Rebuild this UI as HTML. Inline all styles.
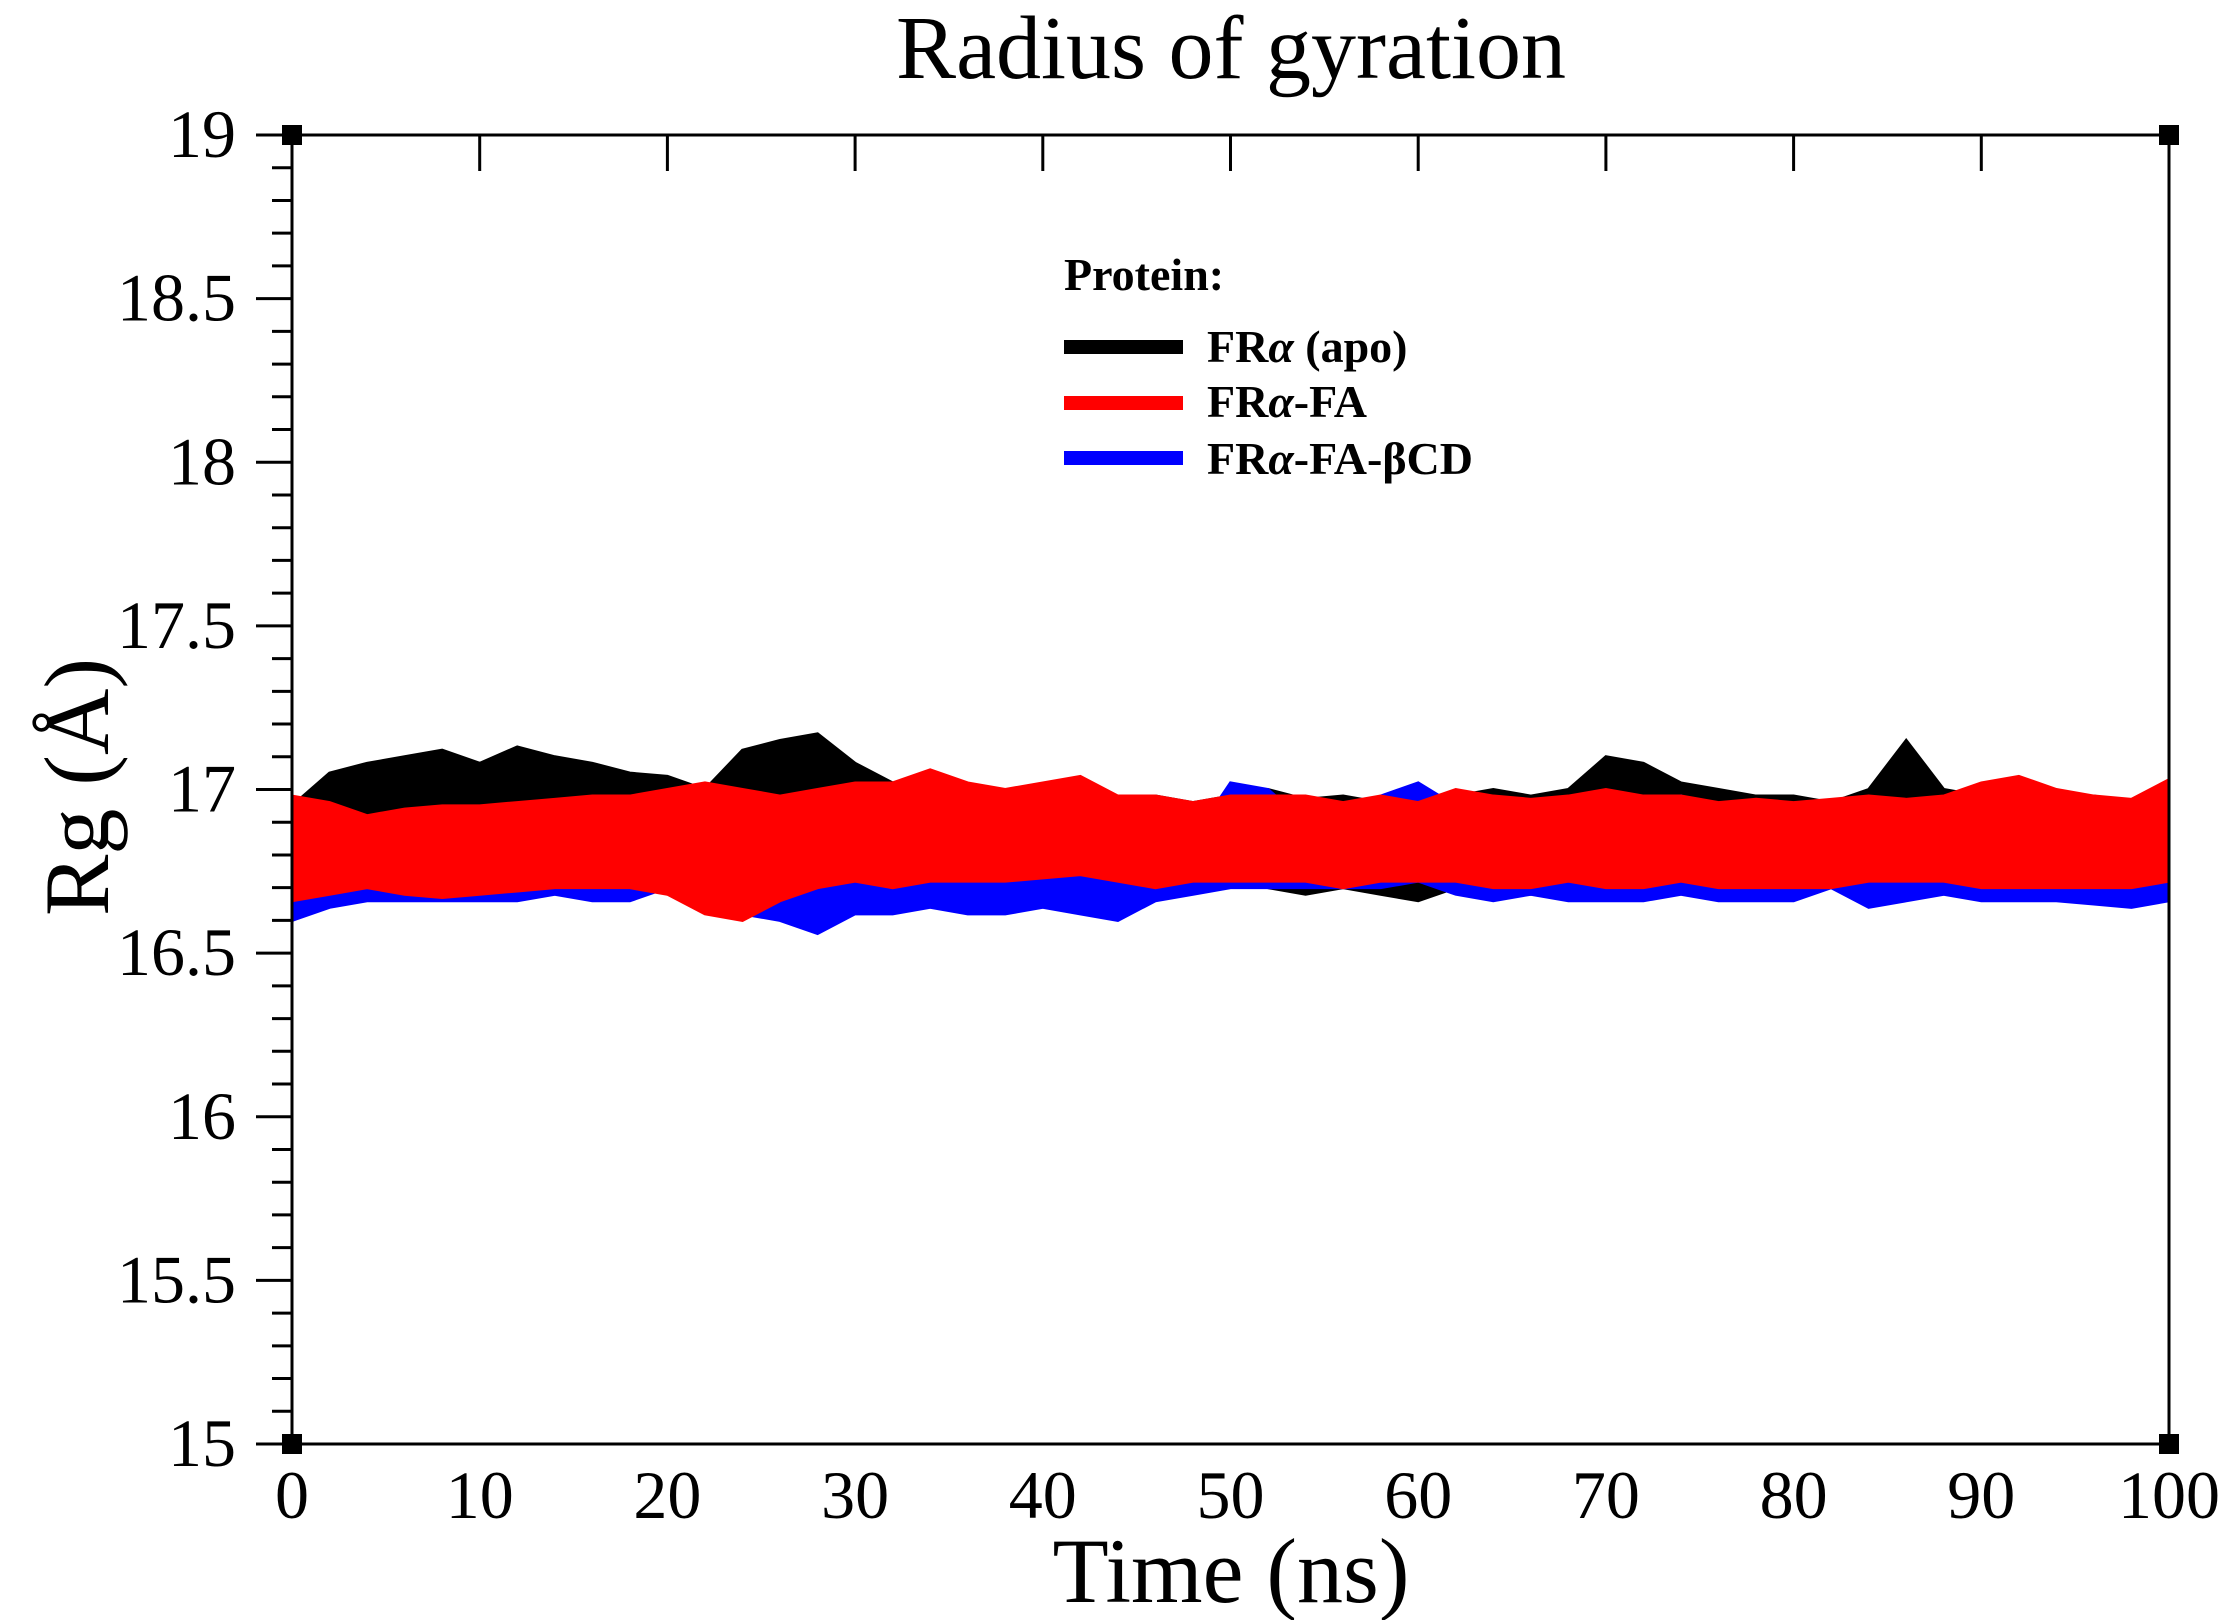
<!DOCTYPE html>
<html><head><meta charset="utf-8"><style>body{margin:0;background:#fff}svg{display:block}</style></head>
<body>
<svg id="chart" width="2235" height="1620" xmlns="http://www.w3.org/2000/svg" font-family="'Liberation Serif', serif">
<rect width="2235" height="1620" fill="#fff"/>
<text x="1231" y="78" font-size="90" text-anchor="middle">Radius of gyration</text>
<g id="marks"></g>
<g id="axes"></g>
<text x="1231" y="1602" font-size="92" text-anchor="middle">Time (ns)</text>
<text transform="translate(108,787) rotate(-90)" font-size="92" text-anchor="middle">Rg (Å)</text>
<g font-weight="bold" font-size="46">
<text x="1064" y="290">Protein:</text>
<rect x="1064" y="340" width="119" height="14" fill="#000"/>
<text x="1207" y="362">FR<tspan font-style="italic">α</tspan> (apo)</text>
<rect x="1064" y="396" width="119" height="14" fill="#f00"/>
<text x="1207" y="417">FR<tspan font-style="italic">α</tspan>-FA</text>
<rect x="1064" y="451" width="119" height="14" fill="#00f"/>
<text x="1207" y="474">FR<tspan font-style="italic">α</tspan>-FA-βCD</text>
</g>
</svg>
<script>
const xTicks=[0,10,20,30,40,50,60,70,80,90,100];
const yTicks=[15,15.5,16,16.5,17,17.5,18,18.5,19];
const times=[0,2,4,6,8,10,12,14,16,18,20,22,24,26,28,30,32,34,36,38,40,42,44,46,48,50,52,54,56,58,60,62,64,66,68,70,72,74,76,78,80,82,84,86,88,90,92,94,96,98,100];
const apoHi=[16.95,17.05,17.08,17.1,17.12,17.08,17.13,17.1,17.08,17.05,17.04,17.0,17.12,17.15,17.17,17.08,17.02,16.98,16.95,16.98,17.0,16.97,16.95,16.98,16.96,16.98,17.0,16.97,16.98,16.96,16.98,16.98,17.0,16.98,17.0,17.1,17.08,17.02,17.0,16.98,16.98,16.96,17.0,17.15,17.0,16.98,17.0,16.97,16.98,16.96,17.02];
const apoLo=[16.6,16.65,16.68,16.7,16.7,16.72,16.72,16.73,16.74,16.74,16.74,16.72,16.7,16.68,16.7,16.66,16.68,16.7,16.7,16.72,16.73,16.72,16.72,16.72,16.72,16.73,16.7,16.68,16.7,16.68,16.66,16.7,16.7,16.68,16.7,16.72,16.7,16.7,16.68,16.68,16.68,16.7,16.68,16.7,16.72,16.72,16.7,16.68,16.68,16.68,16.7];
const faHi=[16.98,16.96,16.92,16.94,16.95,16.95,16.96,16.97,16.98,16.98,17.0,17.02,17.0,16.98,17.0,17.02,17.02,17.06,17.02,17.0,17.02,17.04,16.98,16.98,16.96,16.98,16.98,16.98,16.96,16.98,16.96,17.0,16.98,16.97,16.98,17.0,16.98,16.98,16.96,16.97,16.96,16.97,16.98,16.97,16.98,17.02,17.04,17.0,16.98,16.97,17.03];
const faLo=[16.66,16.68,16.7,16.68,16.67,16.68,16.69,16.7,16.7,16.7,16.68,16.62,16.6,16.66,16.7,16.72,16.7,16.72,16.72,16.72,16.73,16.74,16.72,16.7,16.72,16.72,16.72,16.72,16.7,16.72,16.72,16.72,16.7,16.7,16.72,16.7,16.7,16.72,16.7,16.7,16.7,16.7,16.72,16.72,16.72,16.7,16.7,16.7,16.7,16.7,16.72];
const bcdHi=[16.9,16.88,16.84,16.82,16.82,16.82,16.84,16.85,16.84,16.86,16.86,16.82,16.85,16.84,16.8,16.82,16.84,16.85,16.84,16.83,16.86,16.88,16.85,16.85,16.85,17.02,17.0,16.9,16.9,16.98,17.02,16.95,16.88,16.86,16.85,16.88,16.9,16.98,16.88,16.86,16.86,16.86,16.88,16.9,16.86,16.86,16.88,16.86,16.84,16.84,16.86];
const bcdLo=[16.6,16.64,16.66,16.66,16.66,16.66,16.66,16.68,16.66,16.66,16.7,16.64,16.62,16.6,16.56,16.62,16.62,16.64,16.62,16.62,16.64,16.62,16.6,16.66,16.68,16.7,16.7,16.7,16.7,16.7,16.72,16.68,16.66,16.68,16.66,16.66,16.66,16.68,16.66,16.66,16.66,16.7,16.64,16.66,16.68,16.66,16.66,16.66,16.65,16.64,16.66];

const X0=292,X1=2169,Y0=1444,Y1=135;
const xs=v=>X0+(v-0)/100*(X1-X0);
const ys=v=>Y0-(v-15)/4*(Y0-Y1);
const NS="http://www.w3.org/2000/svg";
const marks=document.getElementById('marks'), axes=document.getElementById('axes');
function mk(tag,attrs,parent){const e=document.createElementNS(NS,tag);for(const k in attrs)e.setAttribute(k,attrs[k]);parent.appendChild(e);return e;}

function band(hi,lo,color,name){
  let pts=[];
  for(let i=0;i<times.length;i++)pts.push(xs(times[i])+','+ys(hi[i]));
  for(let i=times.length-1;i>=0;i--)pts.push(xs(times[i])+','+ys(lo[i]));
  const p=mk('polygon',{points:pts.join(' '),fill:color,stroke:color,'stroke-width':3},marks);
  
  
}
band(apoHi,apoLo,'#000','series-apo');
band(bcdHi,bcdLo,'#00f','series-fa-bcd');
band(faHi,faLo,'#f00','series-fa');

const frame=mk('rect',{x:X0,y:Y1,width:X1-X0,height:Y0-Y1,fill:'none',stroke:'#000','stroke-width':3},axes);


for(const [cx,cy] of [[X0,Y0],[X1,Y0],[X0,Y1],[X1,Y1]]){
  const s=mk('rect',{x:cx-10,y:cy-10,width:20,height:20,fill:'#000'},axes);
  
  
}
xTicks.forEach(v=>{
  const t=mk('line',{x1:xs(v),x2:xs(v),y1:Y1,y2:Y1+36,stroke:'#000','stroke-width':3},axes);
  
  
  const l=mk('text',{x:xs(v),y:1518,'font-size':68,'text-anchor':'middle'},axes);
  l.textContent=v;
  
  
});
yTicks.forEach(v=>{
  const t=mk('line',{x1:X0-36,x2:X0,y1:ys(v),y2:ys(v),stroke:'#000','stroke-width':3},axes);
  
  
  const l=mk('text',{x:236,y:ys(v)+22,'font-size':68,'text-anchor':'end'},axes);
  l.textContent=v;
  
  
});
for(let k=1;k<40;k++){
  if(k%5===0)continue;
  const v=15+k*0.1;
  const t=mk('line',{x1:X0-20,x2:X0,y1:ys(v),y2:ys(v),stroke:'#000','stroke-width':3},axes);
  
  
}
</script>
</body></html>
